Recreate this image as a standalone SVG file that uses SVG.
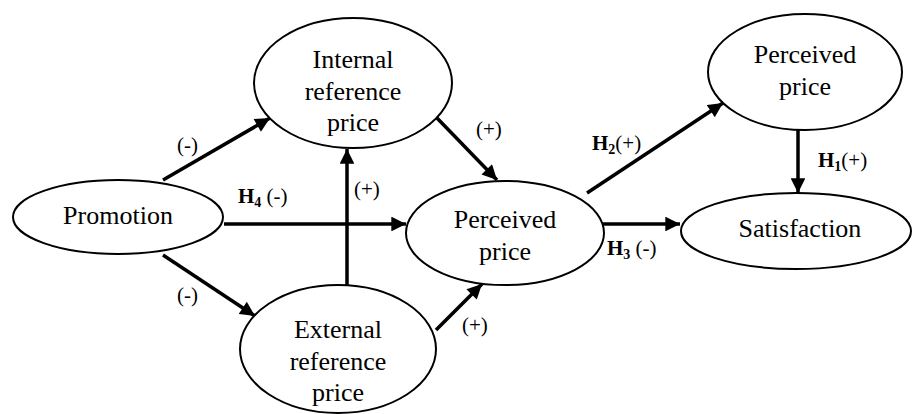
<svg xmlns="http://www.w3.org/2000/svg" width="913" height="414" viewBox="0 0 913 414">
<style>
.node{fill:#fff;stroke:#000;stroke-width:2}
.nt{font-family:"Liberation Serif","Times New Roman",serif;font-size:26px;text-anchor:middle;fill:#000}
.lb{font-family:"Liberation Serif","Times New Roman",serif;font-size:21px;fill:#000}
.h{font-weight:bold}
.sub{font-size:14px}
.conn line{stroke:#000;stroke-width:3.5;fill:none}
</style>
<defs>
<marker id="ah" viewBox="0 0 10 10" refX="10" refY="5" markerWidth="4.4" markerHeight="4.2" markerUnits="strokeWidth" orient="auto">
<path d="M0,0 L10,5 L0,10 z" fill="#000"/>
</marker>
</defs>
<rect width="913" height="414" fill="#fff"/>
<g class="conn">
<line x1="163" y1="180" x2="270" y2="118" marker-end="url(#ah)"/>
<line x1="163" y1="255" x2="255" y2="316" marker-end="url(#ah)"/>
<line x1="224" y1="224" x2="406" y2="224" marker-end="url(#ah)"/>
<line x1="347" y1="285" x2="347" y2="149" marker-end="url(#ah)"/>
<line x1="437" y1="118" x2="497" y2="180" marker-end="url(#ah)"/>
<line x1="436" y1="330" x2="482" y2="284" marker-end="url(#ah)"/>
<line x1="587" y1="193" x2="723" y2="103" marker-end="url(#ah)"/>
<line x1="798" y1="130" x2="798" y2="193" marker-end="url(#ah)"/>
<line x1="603" y1="224" x2="680" y2="224" marker-end="url(#ah)"/>
</g>
<g id="internal">
<ellipse class="node" cx="353" cy="83" rx="99" ry="65"/>
<text class="nt" x="353" y="68">Internal</text>
<text class="nt" x="353" y="100">reference</text>
<text class="nt" x="353" y="131">price</text>
</g>
<g id="promotion">
<ellipse class="node" cx="118" cy="217" rx="105" ry="37"/>
<text class="nt" x="118" y="224">Promotion</text>
</g>
<g id="perceived">
<ellipse class="node" cx="505" cy="233" rx="99" ry="52"/>
<text class="nt" x="505" y="228">Perceived</text>
<text class="nt" x="505" y="260">price</text>
</g>
<g id="external">
<ellipse class="node" cx="338" cy="349" rx="98" ry="64"/>
<text class="nt" x="338" y="338">External</text>
<text class="nt" x="338" y="370">reference</text>
<text class="nt" x="338" y="401">price</text>
</g>
<g id="perceived2">
<ellipse class="node" cx="805" cy="72" rx="97" ry="58"/>
<text class="nt" x="805" y="63">Perceived</text>
<text class="nt" x="805" y="95">price</text>
</g>
<g id="satisfaction">
<ellipse class="node" cx="796" cy="231" rx="115" ry="38"/>
<text class="nt" x="800" y="237">Satisfaction</text>
</g>
<g id="labels">
<text class="lb" x="177" y="152">(-)</text>
<text class="lb" x="177" y="302">(-)</text>
<text class="lb" x="238" y="203"><tspan class="h">H</tspan><tspan class="sub h" dy="4">4</tspan><tspan dy="-4"> (-)</tspan></text>
<text class="lb" x="354" y="196">(+)</text>
<text class="lb" x="476" y="136">(+)</text>
<text class="lb" x="462" y="332">(+)</text>
<text class="lb" x="592" y="150"><tspan class="h">H</tspan><tspan class="sub h" dy="4">2</tspan><tspan dy="-4">(+)</tspan></text>
<text class="lb" x="818" y="167"><tspan class="h">H</tspan><tspan class="sub h" dy="4">1</tspan><tspan dy="-4">(+)</tspan></text>
<text class="lb" x="607" y="255"><tspan class="h">H</tspan><tspan class="sub h" dy="4">3</tspan><tspan dy="-4"> (-)</tspan></text>
</g>
</svg>
